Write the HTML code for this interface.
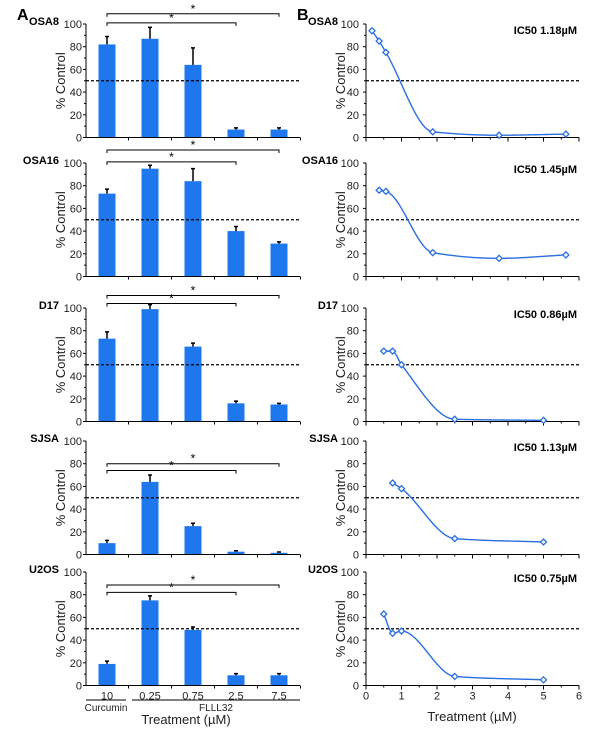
<!DOCTYPE html>
<html><head><meta charset="utf-8">
<style>
html,body{margin:0;padding:0;background:#fff;}
svg{display:block;font-family:"Liberation Sans",Arial,sans-serif;}
</style></head>
<body>
<svg id="fig" width="600" height="730" viewBox="0 0 600 730" xmlns="http://www.w3.org/2000/svg">
<text x="17" y="20" font-size="16" font-weight="bold">A</text>
<text x="297" y="20" font-size="16" font-weight="bold">B</text>
</svg>
<script>
const cellLines = ["OSA8","OSA16","D17","SJSA","U2OS"];
const barCategories = ["10","0.25","0.75","2.5","7.5"];
const barOSA8 = [82,87,64,7,7];
const errOSA8 = [89,97,79,8.5,8.5];
const barOSA16 = [73,95,84,40,29];
const errOSA16 = [77,98,95,44,30.5];
const barD17 = [73,99,66,16,15];
const errD17 = [79,103,69,18,16];
const barSJSA = [10,64,25,2.5,1.5];
const errSJSA = [12.5,70,27.5,3.3,2.2];
const barU2OS = [19,75,49,9,9];
const errU2OS = [21.5,79,51.5,10.5,10.5];
const bracketOuter = [109,111.5,111,80,88.5];
const bracketInner = [101,101,104,74,82];
const yTicks = [0,20,40,60,80,100];
const xTicksB = [0,1,2,3,4,5,6];
const doseOSA8 = [0.17,0.37,0.56,1.88,3.75,5.63];
const respOSA8 = [94,85,75,5,2,3];
const doseOSA16 = [0.37,0.56,1.88,3.75,5.63];
const respOSA16 = [76,75,21,16,19];
const doseD17 = [0.5,0.75,1,2.5,5];
const respD17 = [62,62,50,2,1];
const doseSJSA = [0.75,1,2.5,5];
const respSJSA = [63,58,14,11];
const doseU2OS = [0.5,0.75,1,2.5,5];
const respU2OS = [63,46,48,8,5];
const ic50Labels = ["IC50 1.18µM","IC50 1.45µM","IC50 0.86µM","IC50 1.13µM","IC50 0.75µM"];

const bars=[barOSA8,barOSA16,barD17,barSJSA,barU2OS];
const errs=[errOSA8,errOSA16,errD17,errSJSA,errU2OS];
const doses=[doseOSA8,doseOSA16,doseD17,doseSJSA,doseU2OS];
const resps=[respOSA8,respOSA16,respD17,respSJSA,respU2OS];
const tops=[24,163,308,441,572];
const H=113.5;
const svg=document.getElementById('fig');
const NS="http://www.w3.org/2000/svg";
function mk(tag,attrs,parent,text){const e=document.createElementNS(NS,tag);for(const k in attrs)e.setAttribute(k,attrs[k]);if(text!==undefined)e.textContent=text;(parent||svg).appendChild(e);return e;}
const BLUE="#1f77ee", LINE="#2a6fe0";
const AX0=86, AX1=300, BX0=366, BX1=579;
function xBar(i){return 107+i*43;}
function xDose(d){return BX0+(BX1-BX0)*d/6;}

function monotone(xs,ys){const n=xs.length;const dl=[],m=[];
for(let i=0;i<n-1;i++)dl.push((ys[i+1]-ys[i])/(xs[i+1]-xs[i]));
m[0]=dl[0];m[n-1]=dl[n-2];
for(let i=1;i<n-1;i++){ if(dl[i-1]*dl[i]<=0)m[i]=0; else {const w1=2*(xs[i+1]-xs[i])+(xs[i]-xs[i-1]),w2=(xs[i+1]-xs[i])+2*(xs[i]-xs[i-1]);m[i]=(w1+w2)/(w1/dl[i-1]+w2/dl[i]);}}
return function(x){let j=0;while(j<n-2&&x>xs[j+1])j++;const h=xs[j+1]-xs[j],t=(x-xs[j])/h,t2=t*t,t3=t2*t;
return (2*t3-3*t2+1)*ys[j]+(t3-2*t2+t)*h*m[j]+(-2*t3+3*t2)*ys[j+1]+(t3-t2)*h*m[j+1];};}

function yAxis(g,x0,top,yv,off){
  mk('line',{x1:x0,y1:top,x2:x0,y2:top+H,stroke:'#000','stroke-width':1},g);
  yTicks.forEach(t=>{const y=yv(t);
    const tk=mk('line',{x1:x0-3,y1:y,x2:x0,y2:y,stroke:'#000','stroke-width':1},g);
    
    
    const lb=mk('text',{x:x0-off,y:y+4,'font-size':11,'text-anchor':'end',fill:'#222'},g,String(t));
    
    
    if(t<100)mk('line',{x1:x0-2,y1:yv(t+10),x2:x0,y2:yv(t+10),stroke:'#000','stroke-width':1},g);
  });
}

for(let p=0;p<5;p++){
  const top=tops[p], bottom=top+H;
  const yv=v=>bottom-v/100*H;
  const ga=mk('g',{});
  
  
  const nm=mk('text',{x:59,y:top+1,'font-size':11,'font-weight':'bold','text-anchor':'end'},ga,cellLines[p]);
  
  
  const yt=mk('text',{transform:`translate(65,${top+H/2}) rotate(-90)`,'font-size':13,'text-anchor':'middle',fill:'#222'},ga,'% Control');
  
  
  bars[p].forEach((v,i)=>{
    const cx=xBar(i);
    const r=mk('rect',{x:cx-8.5,y:yv(v),width:17,height:yv(0)-yv(v),fill:BLUE},ga);
    
    
    const e=errs[p][i];
    const el=mk('path',{d:`M${cx},${yv(v)}V${yv(e)}M${cx-2},${yv(e)}H${cx+2}`,stroke:'#000','stroke-width':1.5,fill:'none'},ga);
    
    
  });
  yAxis(ga,AX0,top,yv,4);
  mk('line',{x1:AX0,y1:bottom,x2:AX1,y2:bottom,stroke:'#000','stroke-width':1},ga);
  for(let i=0;i<5;i++)mk('line',{x1:xBar(i)+21.5,y1:bottom,x2:xBar(i)+21.5,y2:bottom+3,stroke:'#000'},ga);
  mk('line',{x1:AX0,y1:yv(50),x2:AX1,y2:yv(50),stroke:'#000','stroke-width':1.3,'stroke-dasharray':'3,2'},ga);
  [[bracketOuter[p],4],[bracketInner[p],3]].forEach(([bv,j])=>{
    const y=yv(bv);const x1=xBar(0),x2=xBar(j);
    const b=mk('path',{d:`M${x1},${y+3}V${y}H${x2}V${y+3}`,stroke:'#000','stroke-width':1,fill:'none'},ga);
    
    
    mk('text',{x:(x1+x2)/2,y:y-1,'font-size':12,'text-anchor':'middle'},ga,'*');
  });
  const gb=mk('g',{});
  
  
  const nm2=mk('text',{x:338,y:top+1,'font-size':11,'font-weight':'bold','text-anchor':'end'},gb,cellLines[p]);
  
  
  const yt2=mk('text',{transform:`translate(345,${top+H/2}) rotate(-90)`,'font-size':13,'text-anchor':'middle',fill:'#222'},gb,'% Control');
  
  
  const ic=mk('text',{x:577,y:top+10,'font-size':11,'font-weight':'bold','text-anchor':'end'},gb,ic50Labels[p]);
  
  
  yAxis(gb,BX0,top,yv,7);
  mk('line',{x1:BX0,y1:bottom,x2:BX1,y2:bottom,stroke:'#000','stroke-width':1},gb);
  for(let k=0;k<=12;k++){const x=xDose(k/2);mk('line',{x1:x,y1:bottom,x2:x,y2:bottom+(k%2?2:4),stroke:'#000'},gb);}
  mk('line',{x1:BX0,y1:yv(50),x2:BX1,y2:yv(50),stroke:'#000','stroke-width':1.3,'stroke-dasharray':'3,2'},gb);
  const xs=doses[p], ys=resps[p], f=monotone(xs,ys);
  let d='';const N=120;
  for(let k=0;k<=N;k++){const x=xs[0]+(xs[xs.length-1]-xs[0])*k/N;d+=(k?'L':'M')+xDose(x).toFixed(2)+','+yv(f(x)).toFixed(2);}
  const ln=mk('path',{d:d,stroke:LINE,'stroke-width':1.4,fill:'none'},gb);
  
  
  xs.forEach((x,i)=>{const cx=xDose(x),cy=yv(ys[i]);
    const m=mk('path',{d:`M${cx},${cy-3}L${cx+3},${cy}L${cx},${cy+3}L${cx-3},${cy}Z`,stroke:LINE,'stroke-width':1.3,fill:'#fff'},gb);
    
    
  });
  if(p===4){
    xTicksB.forEach(t=>{const lb=mk('text',{x:xDose(t),y:bottom+14,'font-size':11,'text-anchor':'middle',fill:'#222'},gb,String(t));
      
      });
    const xt=mk('text',{x:472,y:721,'font-size':13,'text-anchor':'middle',fill:'#222'},gb,'Treatment (µM)');
    
    
    barCategories.forEach((c,i)=>{const lb=mk('text',{x:xBar(i),y:bottom+14,'font-size':11,'text-anchor':'middle',fill:'#222'},ga,c);
      
      });
    mk('line',{x1:86,y1:700,x2:126,y2:700,stroke:'#000'},ga);
    mk('line',{x1:132,y1:700,x2:300,y2:700,stroke:'#000'},ga);
    const c1=mk('text',{x:106,y:711,'font-size':10,'text-anchor':'middle',fill:'#222'},ga,'Curcumin');
    
    
    const c2=mk('text',{x:216,y:711,'font-size':10,'text-anchor':'middle',fill:'#222'},ga,'FLLL32');
    
    
    const xa=mk('text',{x:186,y:724,'font-size':13,'text-anchor':'middle',fill:'#222'},ga,'Treatment (µM)');
    
    
  }
}
</script>
</body></html>
